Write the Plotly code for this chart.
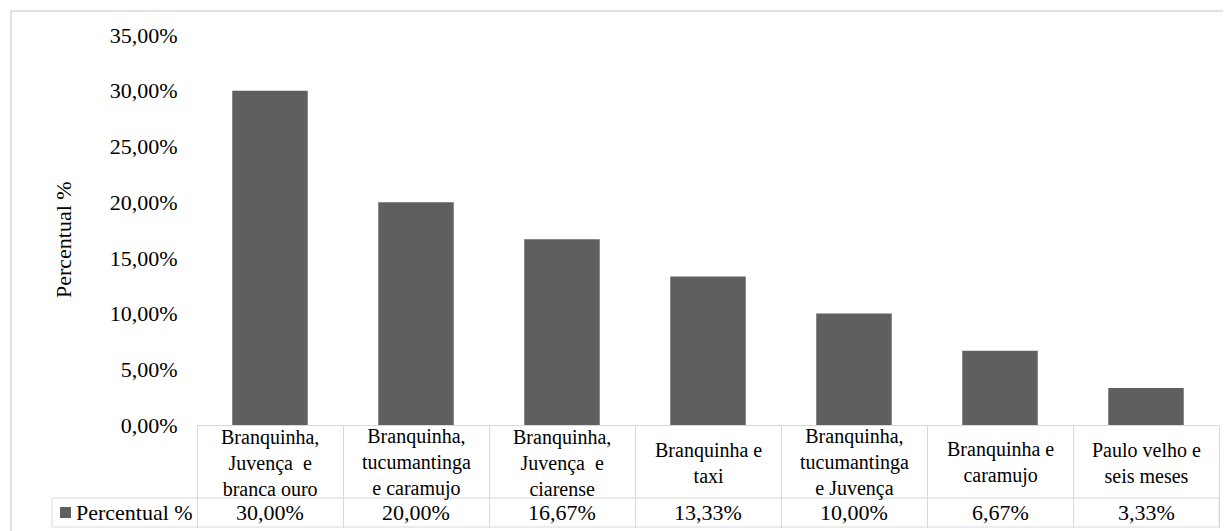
import plotly.graph_objects as go

# ---- data ----
categories = [
    "Branquinha,<br>Juvença  e<br>branca ouro",
    "Branquinha,<br>tucumantinga<br>e caramujo",
    "Branquinha,<br>Juvença  e<br>ciarense",
    "Branquinha e<br>taxi",
    "Branquinha,<br>tucumantinga<br>e Juvença",
    "Branquinha e<br>caramujo",
    "Paulo velho e<br>seis meses",
]
values = [30.00, 20.00, 16.67, 13.33, 10.00, 6.67, 3.33]
series_name = "Percentual %"
y_title = "Percentual %"

# ---- layout geometry (reference pixels) ----
OFF = 8                      # page body margin of the viewer
W, H = 1231 - OFF, 531 - OFF
PL, PR, PT, PB = 197, 1219, 35, 425   # plot area edges (reference px)
ROW1, ROW2 = 498, 527                 # table row lines (reference px)
FONT = "Liberation Serif, Times New Roman, Tinos, DejaVu Serif, serif"
FS = 22
FS_CAT = 20
GRID = "#d9d9d9"
BAR = "#5f5f5f"


def px(x):
    return (x - PL) / (PR - PL)


def py(y):
    return (PB - y) / (PB - PT)


def fmt(v):
    return f"{v:.2f}".replace(".", ",") + "%"


fig = go.Figure()
fig.add_trace(go.Bar(
    x=categories, y=values, name=series_name,
    marker=dict(color=BAR, line=dict(width=0)),
    showlegend=False,
))

txt = dict(family=FONT, size=FS, color="black")
annotations = []
# category row of data table
for c in categories:
    annotations.append(dict(
        x=c, xref="x", y=py((PB + ROW1) / 2 + 1), yref="paper",
        text=c, showarrow=False, xanchor="center", yanchor="middle",
        align="center", font=dict(family=FONT, size=FS_CAT, color="black"),
    ))
# value row of data table
for c, v in zip(categories, values):
    annotations.append(dict(
        x=c, xref="x", y=py((ROW1 + ROW2) / 2), yref="paper",
        text=fmt(v), showarrow=False, xanchor="center", yanchor="middle",
        font=txt,
    ))
# legend key label in the table
annotations.append(dict(
    x=px(74), xref="paper", y=py((ROW1 + ROW2) / 2), yref="paper",
    text=series_name, showarrow=False, xanchor="left", yanchor="middle",
    font=txt,
))
# y axis title
annotations.append(dict(
    x=px(63), xref="paper", y=py(240), yref="paper", text=y_title,
    textangle=-90, showarrow=False, xanchor="center", yanchor="middle",
    font=txt,
))

shapes = [
    # outer chart border
    dict(type="rect", xref="paper", yref="paper",
         x0=px(11), x1=px(1260), y0=py(560), y1=py(11),
         line=dict(color=GRID, width=1.5), layer="below"),
    # value row of table
    dict(type="rect", xref="paper", yref="paper",
         x0=px(52), x1=px(PR), y0=py(ROW2), y1=py(ROW1),
         line=dict(color=GRID, width=1)),
    # legend key square
    dict(type="rect", xref="paper", yref="paper",
         x0=px(60), x1=px(71), y0=py(518), y1=py(507),
         fillcolor=BAR, line=dict(width=0)),
]

fig.update_layout(
    width=W, height=H,
    margin=dict(l=PL - OFF, r=1231 - PR, t=PT - OFF, b=531 - PB, pad=0),
    paper_bgcolor="white", plot_bgcolor="white",
    separators=",.",
    bargap=0.483,
    font=txt,
    annotations=annotations,
    shapes=shapes,
    showlegend=False,
    xaxis=dict(
        type="category", showticklabels=False, tickson="boundaries",
        ticks="outside", ticklen=ROW2 - PB, tickcolor=GRID, tickwidth=1,
        showline=True, linecolor=GRID, linewidth=1,
        showgrid=False, zeroline=False, automargin=False,
    ),
    yaxis=dict(
        range=[0, 35], dtick=5, tickformat=".2f", ticksuffix="%",
        showgrid=False, zeroline=False, showline=False,
        ticks="outside", ticklen=14, tickcolor="rgba(0,0,0,0)",
        tickfont=txt, automargin=False,
    ),
)

fig.write_html("out.html")
